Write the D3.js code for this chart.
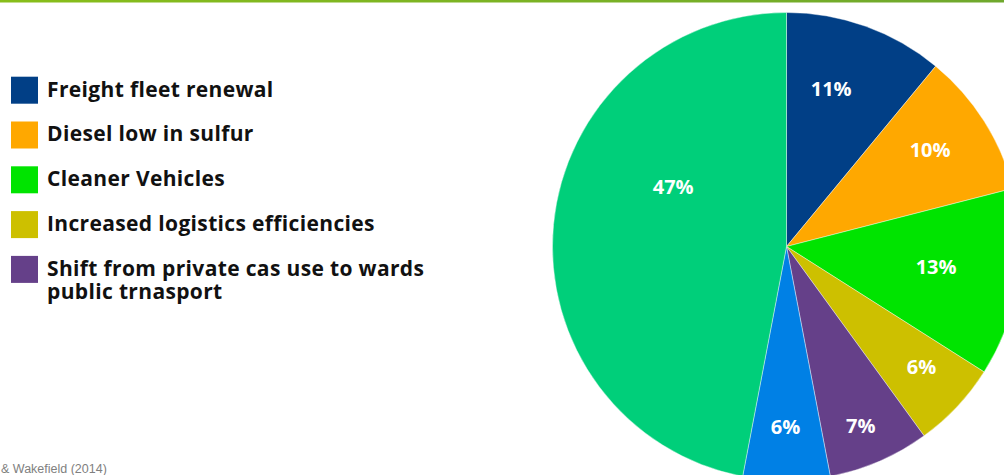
<!DOCTYPE html>
<html><head><meta charset="utf-8">
<script src="https://cdn.jsdelivr.net/npm/d3@7"></script>
<style>html,body{margin:0;padding:0;background:#fff;overflow:hidden}</style>
</head><body>
<svg id="c" width="1004" height="475"></svg>
<script>
const categories = ["Freight fleet renewal","Diesel low in sulfur","Cleaner Vehicles","Increased logistics efficiencies","Shift from private cas use to wards public trnasport","Other (blue)","Other (green)"];
const values = [11, 10, 13, 6, 7, 6, 47];
const colors = ["#013F86","#FFA800","#00E400","#CDC000","#654089","#0080E5","#00CF7A"];
const legendLines = [["Freight fleet renewal"],["Diesel low in sulfur"],["Cleaner Vehicles"],["Increased logistics efficiencies"],["Shift from private cas use to wards","public trnasport"]];
// label placement (layout): radius and angular shift in degrees
const labelRadius = [164, 173, 151, 181, 194, 180, 128];
const labelShift = [-4, -1.5, -1.2, -1.4, 0.9, 0.3, 22.3];
const footer = "& Wakefield (2014)";

const svg = d3.select("#c");
const W = 1004;
const font = "'Open Sans', 'Noto Sans', sans-serif";

// top rule
const defs = svg.append("defs");
const g0 = defs.append("linearGradient").attr("id","tg");
g0.append("stop").attr("offset","0%").attr("stop-color","#88BE1A");
g0.append("stop").attr("offset","100%").attr("stop-color","#6FA82D");
svg.append("rect").attr("x",0).attr("y",0).attr("width",W).attr("height",2.5).attr("fill","url(#tg)");

// pie
const cx = 786.5, cy = 246.5, R = 234;
const pie = d3.pie().sort(null).value(d => d);
const arcs = pie(values);
const arc = d3.arc().innerRadius(0).outerRadius(R);
const gp = svg.append("g").attr("transform", `translate(${cx},${cy})`);
gp.selectAll("path").data(arcs).join("path")
  .attr("d", arc).attr("fill", (d,i) => colors[i])
  .attr("stroke","#fff").attr("stroke-width",0.4);

gp.selectAll("text").data(arcs).join("text")
  .attr("transform", (d,i) => {
    const a = (d.startAngle + d.endAngle)/2 + labelShift[i]*Math.PI/180;
    const r = labelRadius[i];
    return `translate(${r*Math.sin(a)},${-r*Math.cos(a)})`;
  })
  .attr("text-anchor","middle").attr("dy","0.36em")
  .attr("fill","#fff").attr("font-family",font).attr("font-weight",700)
  .attr("font-size",20)
  .text(d => d.data + "%");

// legend
const lg = svg.append("g");
legendLines.forEach((lines, i) => {
  const y0 = 76.7 + i*44.8;
  lg.append("rect").attr("x",11).attr("y",y0).attr("width",27).attr("height",27).attr("fill",colors[i]);
  const t = lg.append("text").attr("x",47).attr("y",y0+19.8)
    .attr("font-family",font).attr("font-weight",700).attr("font-size",21)
    .attr("letter-spacing",0.35).attr("fill","#111");
  lines.forEach((ln, j) => t.append("tspan").attr("x",47).attr("dy", j===0?0:23).text(ln));
});

// footer
svg.append("text").attr("x",1).attr("y",473).attr("font-family","'Liberation Sans', Arial, sans-serif")
  .attr("font-size",12.5).attr("fill","#808080").text(footer);
</script>
</body></html>
